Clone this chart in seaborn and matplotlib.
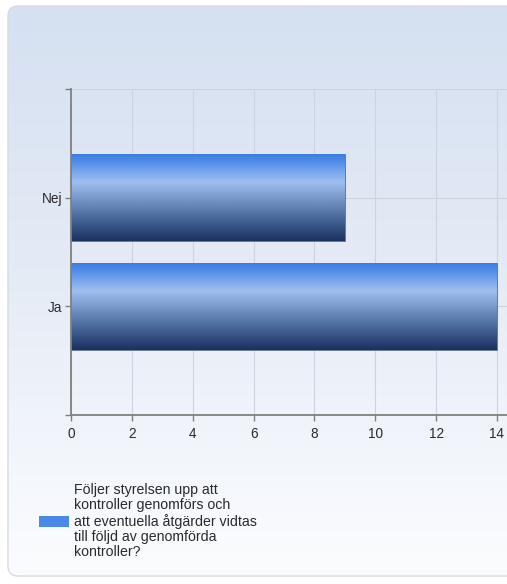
import numpy as np
import pandas as pd
import matplotlib
matplotlib.use("Agg")
import matplotlib.pyplot as plt
import seaborn as sns
from matplotlib.colors import LinearSegmentedColormap
from matplotlib.patches import FancyBboxPatch, Patch

categories = ["Nej", "Ja"]
values = [9, 14]
xticks = [0, 2, 4, 6, 8, 10, 12, 14]
legend_label = ("Följer styrelsen upp att\nkontroller genomförs och\n"
                "att eventuella åtgärder vidtas\ntill följd av genomförda\nkontroller?")

sns.set_theme(style="white")
plt.rcParams["font.family"] = ["Liberation Sans", "DejaVu Sans"]

W, H, DPI = 507, 584, 100
fig = plt.figure(figsize=(W / DPI, H / DPI), dpi=DPI)
fig.patch.set_facecolor("white")

# background panel with vertical gradient and rounded corners
bg = fig.add_axes([0, 0, 1, 1], zorder=-10)
bg.set_xlim(0, W)
bg.set_ylim(H, 0)
bg.axis("off")
panel_cmap = LinearSegmentedColormap.from_list(
    "panel", [(0.0, "#d5e0f1"), (0.5, "#e6ecf6"), (0.85, "#f5f8fd"), (1.0, "#fbfcfe")])
grad = np.linspace(0, 1, 256).reshape(-1, 1)
panel = FancyBboxPatch((8, 6), 540, 570, boxstyle="round,pad=0,rounding_size=10",
                       facecolor="none", edgecolor="#d8dbe1", linewidth=1.0)
bg.add_patch(panel)
im = bg.imshow(grad, cmap=panel_cmap, extent=[8, 548, 576, 6], origin="upper",
               aspect="auto", interpolation="bilinear")
im.set_clip_path(panel)

# main axes
ax_left, ax_bottom = 71 / W, 1 - 415 / H
ax_top = 1 - 89 / H
ax = fig.add_axes([ax_left, ax_bottom, 1 - ax_left, ax_top - ax_bottom])
ax.patch.set_alpha(0)

df = pd.DataFrame({"cat": categories, "val": values})
sns.barplot(data=df, x="val", y="cat", orient="h", color="#4a89e8", width=0.8,
            ax=ax, edgecolor="#5f7190", linewidth=0.6, zorder=2)

bar_cmap = LinearSegmentedColormap.from_list(
    "bar", [(0.0, "#3c7de3"), (0.08, "#4f8ce8"), (0.32, "#a0bff0"),
            (0.55, "#6f8fc2"), (0.8, "#3c5a8c"), (1.0, "#1b3160")])
for p in list(ax.patches):
    x0, y0 = p.get_x(), p.get_y()
    w, h = p.get_width(), p.get_height()
    gi = ax.imshow(grad, cmap=bar_cmap, extent=[x0, x0 + w, y0 + h, y0],
                   origin="upper", aspect="auto", interpolation="bilinear", zorder=2.5)
    gi.set_clip_path(p)

xmax = 14 * (W - 71) / (497 - 71)
ax.set_xlim(0, xmax)
ax.set_ylim(2, -1)
ax.set_xticks(xticks)
ax.set_xticklabels([str(t) for t in xticks])
ax.set_yticks([-1, 0, 1, 2])
ax.set_yticklabels([""] + categories + [""])
ax.set_xlabel("")
ax.set_ylabel("")

ax.set_axisbelow(True)
ax.grid(True, color="#cdd4e0", linewidth=0.8)
for s in ["top", "right"]:
    ax.spines[s].set_visible(False)
for s in ["left", "bottom"]:
    ax.spines[s].set_color("#808080")
    ax.spines[s].set_linewidth(1.3)
ax.tick_params(axis="both", which="major", length=4, width=1, color="#808080",
               labelcolor="#2a2a2a", labelsize=9.8, left=True, bottom=True)
ax.tick_params(axis="x", pad=5)
ax.tick_params(axis="y", pad=2)

leg = fig.legend(handles=[Patch(facecolor="#4a89e8", edgecolor="none")],
                 labels=[legend_label], loc="center left",
                 bbox_to_anchor=(39 / W, 1 - 521 / H), frameon=False,
                 borderpad=0, borderaxespad=0, handlelength=2.1, handleheight=0.8,
                 handletextpad=0.4, fontsize=10.2)
for t in leg.get_texts():
    t.set_linespacing(1.1)
    t.set_multialignment("left")
    t.set_color("#2a2a2a")

fig.savefig("out.png", dpi=DPI)
